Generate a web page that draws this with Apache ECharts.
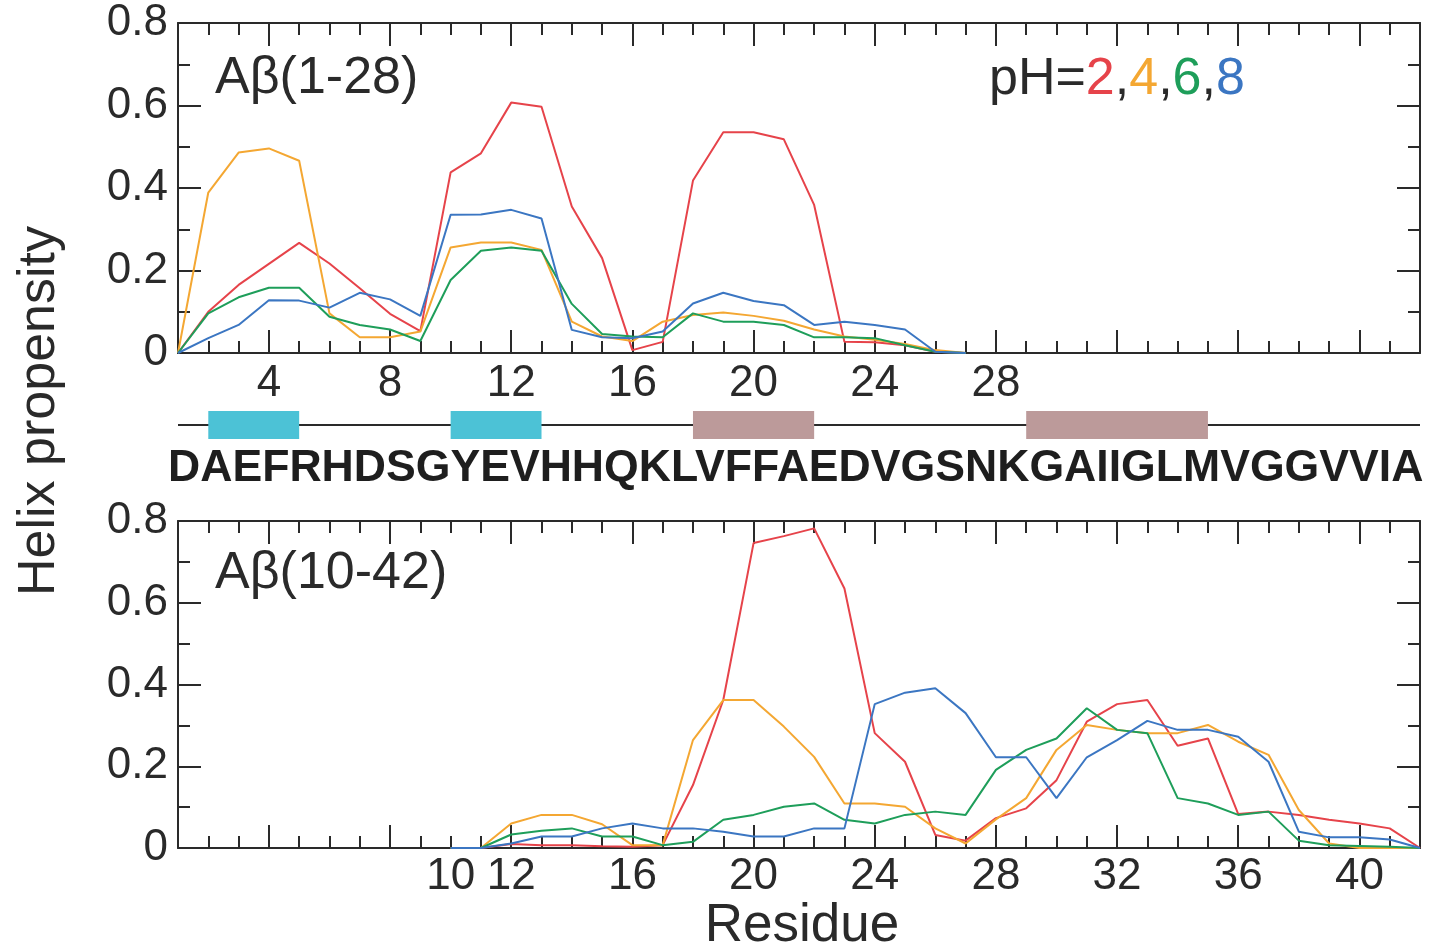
<!DOCTYPE html>
<html>
<head>
<meta charset="utf-8">
<script src="https://cdn.jsdelivr.net/npm/echarts@6/dist/echarts.min.js"></script>
<style>
  html, body { margin: 0; padding: 0; background: #ffffff; }
  #chart { width: 1436px; height: 949px; }
</style>
</head>
<body>
<div id="chart"></div>
<script>
// ---- Residue numbers of each fragment ----
const residuesA28 = [1, 2, 3, 4, 5, 6, 7, 8, 9, 10, 11, 12, 13, 14, 15, 16, 17, 18, 19, 20, 21, 22, 23, 24, 25, 26, 27];
const residuesA42 = [10, 11, 12, 13, 14, 15, 16, 17, 18, 19, 20, 21, 22, 23, 24, 25, 26, 27, 28, 29, 30, 31, 32, 33, 34, 35, 36, 37, 38, 39, 40, 41, 42];

// ---- Helix propensity, Abeta(1-28), one list per pH ----
const a28pH2 = [0, 0.10, 0.165, 0.216, 0.267, 0.217, 0.157, 0.095, 0.053, 0.438, 0.484, 0.607, 0.597, 0.355, 0.23, 0.007, 0.027, 0.418, 0.535, 0.535, 0.518, 0.359, 0.027, 0.026, 0.019, 0.003, 0];
const a28pH4 = [0, 0.389, 0.486, 0.496, 0.466, 0.096, 0.038, 0.038, 0.052, 0.256, 0.268, 0.268, 0.25, 0.076, 0.04, 0.029, 0.076, 0.092, 0.098, 0.09, 0.078, 0.057, 0.04, 0.032, 0.022, 0.007, 0];
const a28pH6 = [0, 0.096, 0.135, 0.158, 0.158, 0.088, 0.068, 0.057, 0.029, 0.177, 0.248, 0.256, 0.248, 0.119, 0.046, 0.04, 0.038, 0.096, 0.076, 0.076, 0.068, 0.038, 0.038, 0.036, 0.019, 0.003, 0];
const a28pH8 = [0, 0.036, 0.068, 0.128, 0.127, 0.11, 0.146, 0.13, 0.09, 0.335, 0.336, 0.347, 0.326, 0.056, 0.038, 0.036, 0.052, 0.12, 0.146, 0.126, 0.116, 0.068, 0.076, 0.068, 0.057, 0.003, 0];

// ---- Helix propensity, Abeta(10-42), one list per pH ----
const a42pH2 = [0, 0, 0.01, 0.007, 0.007, 0.004, 0.003, 0.007, 0.154, 0.362, 0.746, 0.763, 0.782, 0.635, 0.281, 0.211, 0.032, 0.018, 0.073, 0.097, 0.166, 0.309, 0.352, 0.362, 0.25, 0.268, 0.083, 0.089, 0.081, 0.069, 0.06, 0.048, 0];
const a42pH4 = [0, 0, 0.06, 0.081, 0.081, 0.058, 0.007, 0.007, 0.264, 0.362, 0.362, 0.297, 0.223, 0.109, 0.109, 0.101, 0.048, 0.011, 0.07, 0.122, 0.24, 0.301, 0.289, 0.281, 0.281, 0.301, 0.26, 0.228, 0.093, 0.011, 0, 0, 0];
const a42pH6 = [0, 0, 0.033, 0.042, 0.048, 0.028, 0.028, 0.007, 0.015, 0.069, 0.081, 0.101, 0.109, 0.069, 0.06, 0.081, 0.089, 0.081, 0.191, 0.24, 0.268, 0.342, 0.289, 0.281, 0.122, 0.109, 0.081, 0.089, 0.018, 0.007, 0.005, 0.003, 0];
const a42pH8 = [0, 0, 0.011, 0.028, 0.028, 0.048, 0.06, 0.048, 0.048, 0.04, 0.028, 0.028, 0.048, 0.048, 0.352, 0.38, 0.391, 0.33, 0.222, 0.222, 0.122, 0.222, 0.264, 0.311, 0.289, 0.289, 0.272, 0.211, 0.04, 0.026, 0.026, 0.021, 0];

// ---- Tick values and labels ----
const majorResidueTicks = [4, 8, 12, 16, 20, 24, 28, 32, 36, 40];
const topResidueLabels = [4, 8, 12, 16, 20, 24, 28];
const bottomResidueLabels = [10, 12, 16, 20, 24, 28, 32, 36, 40];

// ---- Sequence and secondary-structure spans (residue start, residue end) ----
const sequence = 'DAEFRHDSGYEVHHQKLVFFAEDVGSNKGAIIGLMVGGVVIA';
const helixSpans = [[2, 5], [10, 13]];
const strandSpans = [[18, 22], [29, 35]];
const backboneSpan = [[1, 0.5], [42, 0.5]];

// ---- Styling ----
const FONT = '"Liberation Sans", Arial, Helvetica, sans-serif';
const INK = '#2a2a2a';
const COLORS = { pH2: '#E6434A', pH4: '#F4A732', pH6: '#1E9E5A', pH8: '#3B76C2' };
const HELIX_FILL = '#4CC2D6';
const STRAND_FILL = '#BC9A9A';
const TICK_FONT = 44;

const frameLine = { color: INK, width: 2 };

function pairs(xs, ys) { return xs.map((x, i) => [x, ys[i]]); }

function xMinor(gridIndex, position) {
  return {
    type: 'value', gridIndex, position, min: 1, max: 42, interval: 1,
    axisLine: { show: true, onZero: false, lineStyle: frameLine },
    axisTick: { show: true, inside: true, length: 12, lineStyle: frameLine },
    axisLabel: { show: false }, splitLine: { show: false }
  };
}
function xMajor(gridIndex, position, labels, margin) {
  return {
    type: 'value', gridIndex, position, min: 1, max: 42,
    axisLine: { show: false, onZero: false },
    axisTick: { show: true, inside: true, length: 23, customValues: majorResidueTicks, lineStyle: frameLine },
    axisLabel: labels
      ? { show: true, customValues: labels, fontSize: TICK_FONT, fontFamily: FONT, color: INK, margin: margin,
          showMinLabel: true, showMaxLabel: true, hideOverlap: false }
      : { show: false },
    splitLine: { show: false }
  };
}
function yProp(gridIndex, position, showLabels) {
  return {
    type: 'value', gridIndex, position, min: 0, max: 0.8, interval: 0.2,
    axisLine: { show: true, onZero: false, lineStyle: frameLine },
    axisTick: { show: true, inside: true, length: 23, lineStyle: frameLine },
    minorTick: { show: true, splitNumber: 2, length: 12, lineStyle: frameLine },
    axisLabel: showLabels
      ? { show: true, fontSize: TICK_FONT, fontFamily: FONT, color: INK, margin: 10, padding: [8, 0, 0, 0] }
      : { show: false },
    splitLine: { show: false }, minorSplitLine: { show: false }
  };
}

function propensityLine(name, data, xIdx, yIdx, color) {
  return {
    name, type: 'line', xAxisIndex: xIdx, yAxisIndex: yIdx, data,
    showSymbol: false, symbol: 'none', smooth: false, z: 3,
    lineStyle: { color, width: 2 }, itemStyle: { color }
  };
}

function spanRenderer(fill) {
  return function (params, api) {
    const a = api.coord([api.value(0), 1]);
    const b = api.coord([api.value(1), 0]);
    return { type: 'rect', shape: { x: a[0], y: a[1], width: b[0] - a[0], height: b[1] - a[1] }, style: { fill } };
  };
}

const chart = echarts.init(document.getElementById('chart'), null, { renderer: 'canvas' });

chart.setOption({
  animation: false,
  backgroundColor: '#ffffff',
  grid: [
    { left: 178, top: 23, width: 1242, height: 330 },
    { left: 178, top: 521, width: 1242, height: 327 },
    { left: 178, top: 411, width: 1242, height: 28 }
  ],
  xAxis: [
    xMinor(0, 'bottom'), xMajor(0, 'bottom', topResidueLabels, 9),
    xMinor(0, 'top'), xMajor(0, 'top', null),
    xMinor(1, 'bottom'), xMajor(1, 'bottom', bottomResidueLabels, 7),
    xMinor(1, 'top'), xMajor(1, 'top', null),
    { type: 'value', gridIndex: 2, min: 1, max: 42, show: false }
  ],
  yAxis: [
    yProp(0, 'left', true), yProp(0, 'right', false),
    yProp(1, 'left', true), yProp(1, 'right', false),
    { type: 'value', gridIndex: 2, min: 0, max: 1, show: false }
  ],
  series: [
    propensityLine('pH 2', pairs(residuesA28, a28pH2), 1, 0, COLORS.pH2),
    propensityLine('pH 4', pairs(residuesA28, a28pH4), 1, 0, COLORS.pH4),
    propensityLine('pH 6', pairs(residuesA28, a28pH6), 1, 0, COLORS.pH6),
    propensityLine('pH 8', pairs(residuesA28, a28pH8), 1, 0, COLORS.pH8),
    propensityLine('pH 2', pairs(residuesA42, a42pH2), 5, 2, COLORS.pH2),
    propensityLine('pH 4', pairs(residuesA42, a42pH4), 5, 2, COLORS.pH4),
    propensityLine('pH 6', pairs(residuesA42, a42pH6), 5, 2, COLORS.pH6),
    propensityLine('pH 8', pairs(residuesA42, a42pH8), 5, 2, COLORS.pH8),
    {
      type: 'line', xAxisIndex: 8, yAxisIndex: 4, data: backboneSpan, showSymbol: false, symbol: 'none', z: 1,
      lineStyle: { color: INK, width: 2 }
    },
    {
      type: 'custom', xAxisIndex: 8, yAxisIndex: 4, data: helixSpans, z: 2,
      encode: { x: [0, 1] }, renderItem: spanRenderer(HELIX_FILL)
    },
    {
      type: 'custom', xAxisIndex: 8, yAxisIndex: 4, data: strandSpans, z: 2,
      encode: { x: [0, 1] }, renderItem: spanRenderer(STRAND_FILL)
    }
  ],
  graphic: [
    { type: 'text', z: 10, style: { x: 215, y: 79, text: 'Aβ(1-28)', font: '52px ' + FONT, fill: INK, verticalAlign: 'middle' } },
    { type: 'text', z: 10, style: { x: 215, y: 574, text: 'Aβ(10-42)', font: '52px ' + FONT, fill: INK, verticalAlign: 'middle' } },
    {
      type: 'text', z: 10,
      style: {
        x: 989, y: 80, verticalAlign: 'middle', font: '52px ' + FONT, fill: INK,
        text: 'pH={a|2},{b|4},{c|6},{d|8}',
        rich: {
          a: { fill: COLORS.pH2, font: '52px ' + FONT },
          b: { fill: COLORS.pH4, font: '52px ' + FONT },
          c: { fill: COLORS.pH6, font: '52px ' + FONT },
          d: { fill: COLORS.pH8, font: '52px ' + FONT }
        }
      }
    },
    { type: 'text', z: 10, style: { x: 168, y: 469, text: sequence, font: 'bold 44.6px ' + FONT, fill: '#1e1e1e', verticalAlign: 'middle' } },
    { type: 'text', z: 10, style: { x: 802, y: 926, text: 'Residue', font: '53px ' + FONT, fill: INK, align: 'center', verticalAlign: 'middle' } },
    { type: 'text', z: 10, x: 40, y: 411, rotation: Math.PI / 2,
      style: { x: 0, y: 0, text: 'Helix propensity', font: '52px ' + FONT, fill: INK, align: 'center', verticalAlign: 'middle' } }
  ]
});
</script>
</body>
</html>
